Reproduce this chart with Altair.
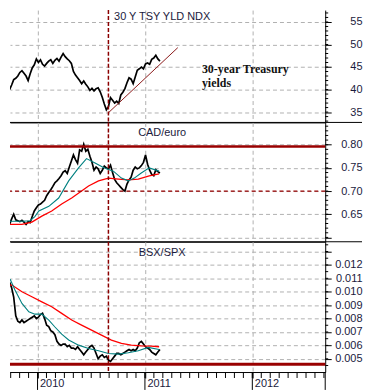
import altair as alt
import pandas as pd

# ---------------- data ----------------
WEEK0 = "2009-09-28"  # first weekly close shown

tsy_yield = [40.0, 41.0, 42.2, 42.5, 43.0, 43.8, 44.2, 43.6, 43.0, 42.0,
             43.5, 44.8, 45.5, 46.8, 46.0, 46.6, 45.6, 45.2, 45.8, 46.3,
             46.6, 45.8, 46.5, 46.9, 46.3, 47.2, 48.0, 47.3, 46.8, 46.4,
             45.8, 44.0, 43.2, 42.6, 42.0, 41.3, 41.9, 41.2, 40.6, 39.8,
             40.3, 39.7, 40.2, 40.4, 39.5, 38.3, 36.8, 35.5, 36.2, 38.2,
             37.6, 37.0, 37.4, 36.9, 38.8, 39.4, 40.2, 41.5, 42.6, 42.3,
             41.3, 42.8, 44.3, 44.6, 45.0, 44.6, 45.7, 45.9, 45.6, 46.7,
             47.0, 47.6, 46.8, 46.3]

cad_euro = [0.628, 0.640, 0.650, 0.638, 0.636, 0.634, 0.637, 0.633, 0.628, 0.634,
            0.632, 0.645, 0.657, 0.664, 0.670, 0.672, 0.676, 0.680, 0.690, 0.697,
            0.703, 0.710, 0.718, 0.722, 0.727, 0.733, 0.741, 0.744, 0.738, 0.752,
            0.765, 0.778, 0.768, 0.760, 0.789, 0.786, 0.801, 0.786, 0.790, 0.775,
            0.762, 0.745, 0.752, 0.748, 0.738, 0.745, 0.754, 0.750, 0.748, 0.756,
            0.740, 0.725, 0.718, 0.713, 0.708, 0.703, 0.700, 0.715, 0.724, 0.730,
            0.745, 0.752, 0.748, 0.750, 0.755, 0.762, 0.778, 0.758, 0.745, 0.736,
            0.733, 0.746, 0.742, 0.739]

bsx_spx = [0.0107, 0.0103, 0.0096, 0.0082, 0.0078, 0.0077, 0.0079, 0.0077, 0.0078, 0.0079,
           0.0080, 0.0081, 0.0082, 0.0080, 0.0081, 0.0083, 0.0084, 0.0080, 0.0075, 0.0074,
           0.0071, 0.0070, 0.0068, 0.0063, 0.0061, 0.0060, 0.0061, 0.0061, 0.0059, 0.0060,
           0.0058, 0.0058, 0.0057, 0.0059, 0.0057, 0.0055, 0.0053, 0.0055, 0.0057, 0.0059,
           0.0060, 0.0058, 0.0054, 0.0050, 0.0052, 0.0053, 0.0051, 0.0052, 0.0049, 0.0048,
           0.0050, 0.0052, 0.0054, 0.0054, 0.0053, 0.0054, 0.0055, 0.0056, 0.0057, 0.0056,
           0.0057, 0.0056, 0.0058, 0.0062, 0.0063, 0.0061, 0.0059, 0.0058, 0.0057, 0.0055,
           0.0054, 0.0053, 0.0055, 0.0057]

# moving averages (decimal year, value)
cad_fast_t = [2009.744, 2009.855, 2009.929, 2009.975, 2010.012, 2010.105, 2010.197, 2010.290,
              2010.382, 2010.456, 2010.531, 2010.623, 2010.706, 2010.781, 2010.845, 2010.901,
              2010.966, 2011.040, 2011.132]
cad_fast_v = [0.635, 0.635, 0.636, 0.645, 0.657, 0.667, 0.685, 0.722,
              0.750, 0.770, 0.761, 0.750, 0.743, 0.728, 0.722, 0.728,
              0.739, 0.750, 0.743]
cad_slow_t = [2009.744, 2009.855, 2009.947, 2010.040, 2010.132, 2010.225, 2010.318, 2010.410,
              2010.475, 2010.568, 2010.660, 2010.753, 2010.845, 2010.938, 2011.040, 2011.132]
cad_slow_v = [0.628, 0.628, 0.633, 0.646, 0.657, 0.672, 0.685, 0.700,
              0.711, 0.722, 0.728, 0.726, 0.724, 0.726, 0.733, 0.737]

bsx_fast_t = [2009.744, 2009.790, 2009.855, 2009.919, 2009.975, 2010.040, 2010.105, 2010.160,
              2010.225, 2010.290, 2010.382, 2010.475, 2010.568, 2010.660, 2010.753, 2010.845,
              2010.938, 2011.031, 2011.132]
bsx_fast_v = [0.01095, 0.01013, 0.00913, 0.00851, 0.00833, 0.00833, 0.00789, 0.00739,
              0.00684, 0.00640, 0.00602, 0.00577, 0.00560, 0.00540, 0.00535, 0.00545,
              0.00560, 0.00585, 0.00570]
bsx_slow_t = [2009.744, 2009.762, 2009.855, 2009.947, 2010.040, 2010.132, 2010.225, 2010.318,
              2010.410, 2010.503, 2010.595, 2010.688, 2010.781, 2010.873, 2010.966, 2011.058,
              2011.132]
bsx_slow_v = [0.0105, 0.0105, 0.0100, 0.00963, 0.00925, 0.00888, 0.00839, 0.00789,
              0.00751, 0.00714, 0.00677, 0.00640, 0.00615, 0.00602, 0.00597, 0.00595,
              0.00590]

trend_t = [2010.66, 2011.306]
trend_v = [34.85, 49.3]
event_t = 2010.66
cad_high = 0.796
cad_mid = 0.70
bsx_low = 0.0046

year_ticks = [2010, 2011, 2012]
top_major = [35, 40, 45, 50, 55]
top_minor = list(range(33, 58))
mid_major = [0.60, 0.65, 0.70, 0.75, 0.80]
mid_minor = [round(0.59 + k * 0.01, 2) for k in range(1, 26)]
bot_major = [0.005, 0.006, 0.007, 0.008, 0.009, 0.010, 0.011, 0.012, 0.013]
bot_minor = [round(0.0045 + k * 0.0005, 4) for k in range(0, 19)]
X_DOMAIN = [2009.7435, 2012.6787]

# ---------------- helpers ----------------
def decimal_year(dates):
    return [d.year + (d.dayofyear - 1) / (366 if d.is_leap_year else 365) for d in dates]

weeks = pd.date_range(WEEK0, periods=len(tsy_yield), freq="7D")
wt = decimal_year(weeks)
months = [round(y + m / 12, 4) for y in range(2009, 2013) for m in range(12)
          if X_DOMAIN[0] <= y + m / 12 <= X_DOMAIN[1]]


def frame(t, v):
    return pd.DataFrame({"t": t, "v": v})


one = pd.DataFrame({"k": [0]})

W = 317
RIGHT = 354          # right end of the separators (panel coords)
GRID = "#b0b0b0"
LBL = "#1a1a3c"
DARKRED = "#8b0000"
FONT = "Liberation Sans"
xs = alt.Scale(domain=X_DOMAIN, nice=False, zero=False)


def plain_x_axis():
    return alt.Axis(values=year_ticks, title=None, labels=False, ticks=False,
                    domain=True, domainColor="black", domainWidth=1,
                    grid=True, gridColor=GRID, gridDash=[4, 3], gridWidth=1)


bottom_x_axis = alt.Axis(
    values=year_ticks, title=None, format="d",
    grid=True, gridColor=GRID, gridDash=[4, 3], gridWidth=1,
    ticks=True, tickSize=6, tickColor="black", tickWidth=1, domainColor="black",
    labelAlign="left", labelBaseline="top", labelPadding=0, labelOffset=2,
    labelOverlap=False, labelFlush=False, labelFont=FONT, labelFontSize=11,
    labelColor=LBL)


def y_axis(vals, label_ok, fmt):
    return alt.Axis(
        orient="right", values=vals, title=None, format=fmt,
        labelExpr=f"({label_ok}) ? datum.label : ''",
        grid=True, gridColor=GRID, gridDash=[4, 3], gridWidth=1,
        ticks=True, tickSize=6, tickColor="black", tickWidth=1, domainColor="black",
        labelAlign="right", labelBaseline="middle", labelPadding=31,
        labelOverlap=False, labelFont=FONT, labelFontSize=11, labelColor=LBL)


def panel(height, ydom, yaxis, xaxis, minor, series, extra, title, title_y,
          sep=True, more=()):
    ys = alt.Scale(domain=ydom, nice=False, zero=False)
    X = lambda **kw: alt.X(scale=xs, axis=xaxis, **kw)
    Y = lambda **kw: alt.Y(scale=ys, axis=yaxis, **kw)
    layers = []
    for df, color, width in series:
        layers.append(
            alt.Chart(df).mark_line(color=color, strokeWidth=width, clip=True).encode(
                x=X(field="t", type="quantitative"),
                y=Y(field="v", type="quantitative")))
    # minor ticks on the right axis
    layers.append(alt.Chart(pd.DataFrame({"v": minor})).mark_rule(
        color="black", strokeWidth=1).encode(
        y=Y(field="v", type="quantitative"), x=alt.value(W), x2=alt.value(W + 3)))
    for val, style in extra:
        layers.append(alt.Chart(one).mark_rule(**style).encode(
            y=Y(datum=val, type="quantitative")))
    layers.append(alt.Chart(one).mark_rule(color=DARKRED, strokeWidth=1.5,
                                           strokeDash=[4, 2]).encode(
        x=X(datum=event_t, type="quantitative")))
    layers.append(alt.Chart(one).mark_text(
        text=title, font=FONT, fontSize=11, color=LBL, align="center",
        baseline="alphabetic", clip=True).encode(x=alt.value(153), y=alt.value(title_y)))
    if sep:
        layers.append(alt.Chart(one).mark_rule(color="black", strokeWidth=1).encode(
            x=alt.value(0), x2=alt.value(RIGHT), y=alt.value(height)))
    layers.extend(more)
    return alt.layer(*layers).properties(width=W, height=height)


# ---------------- top panel ----------------
note = alt.Chart(one).mark_text(
    text="30-year Treasury\nyields", lineBreak="\n", font="Liberation Serif",
    fontWeight="bold", fontSize=12, lineHeight=13.5, color="#111111",
    align="left", baseline="alphabetic").encode(x=alt.value(193), y=alt.value(63.7))
top = panel(
    113, [32.7, 57.64],
    y_axis(top_major, "true", "d"), plain_x_axis(), top_minor,
    [(frame(wt, tsy_yield), "black", 1.7),
     (frame(trend_t, trend_v), "#8b1a1a", 1)],
    [], "30 Y TSY YLD NDX", 9.5, more=[note])

# ---------------- middle panel ----------------
mid = panel(
    120, [0.5906, 0.8481],
    y_axis(mid_major, "datum.value > 0.62", ".2f"), plain_x_axis(), mid_minor,
    [(frame(wt, cad_euro), "black", 1.7),
     (frame(cad_slow_t, cad_slow_v), "#ff0000", 1.3),
     (frame(cad_fast_t, cad_fast_v), "#008080", 1.1)],
    [(cad_high, dict(color="#990000", strokeWidth=2.5)),
     (cad_mid, dict(color="#990000", strokeWidth=1.3, strokeDash=[4, 3]))],
    "CAD/euro", 14)

# ---------------- bottom panel ----------------
month_ticks = alt.Chart(pd.DataFrame({"t": months})).mark_rule(
    color="black", strokeWidth=1).encode(
    x=alt.X("t:Q", scale=xs, axis=bottom_x_axis), y=alt.value(131), y2=alt.value(137))
year_ext = alt.Chart(pd.DataFrame({"t": year_ticks})).mark_rule(
    color="black", strokeWidth=1).encode(
    x=alt.X("t:Q", scale=xs, axis=bottom_x_axis), y=alt.value(131), y2=alt.value(149))
axis_tail = alt.Chart(one).mark_rule(color="black", strokeWidth=1).encode(
    x=alt.value(W), y=alt.value(131), y2=alt.value(149))
bot = panel(
    131, [0.004014, 0.013727],
    y_axis(bot_major, "datum.value < 0.0125", ".3f"), bottom_x_axis, bot_minor,
    [(frame(wt, bsx_spx), "black", 1.7),
     (frame(bsx_slow_t, bsx_slow_v), "#ff0000", 1.3),
     (frame(bsx_fast_t, bsx_fast_v), "#008080", 1.1)],
    [(bsx_low, dict(color="#990000", strokeWidth=3))],
    "BSX/SPX", 14, sep=False, more=[month_ticks, year_ext, axis_tail])

chart = alt.vconcat(top, mid, bot, spacing=0, bounds="flush").properties(
    padding=0).configure_view(stroke=None)

chart.save("out.html", embed_options={"renderer": "svg", "actions": False})
